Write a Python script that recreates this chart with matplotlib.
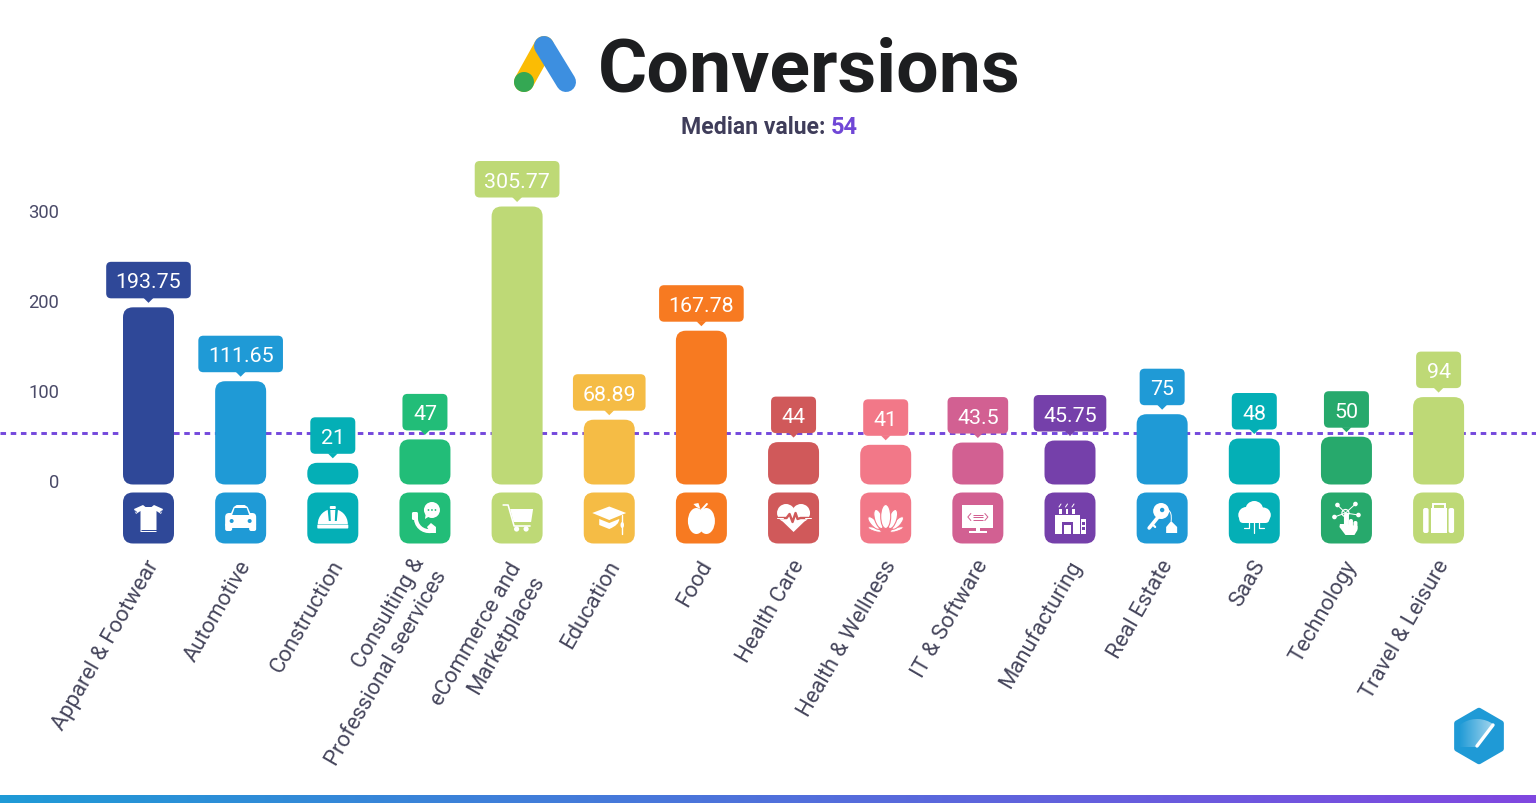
import numpy as np
import matplotlib
matplotlib.use("Agg")
import matplotlib.pyplot as plt
from matplotlib.patches import (FancyBboxPatch, Circle, Ellipse, Polygon, Rectangle,
                                Wedge, PathPatch, RegularPolygon)
from matplotlib.path import Path
from matplotlib.colors import LinearSegmentedColormap
from matplotlib.transforms import Affine2D

plt.rcParams["font.family"] = ["Roboto", "DejaVu Sans"]

categories = ["Apparel & Footwear", "Automotive", "Construction",
              "Consulting &\nProfessional seervices", "eCommerce and\nMarketplaces",
              "Education", "Food", "Health Care", "Health & Wellness", "IT & Software",
              "Manufacturing", "Real Estate", "SaaS", "Technology", "Travel & Leisure"]
values = [193.75, 111.65, 21, 47, 305.77, 68.89, 167.78, 44, 41, 43.5, 45.75, 75, 48, 50, 94]
value_labels = ["193.75", "111.65", "21", "47", "305.77", "68.89", "167.78", "44", "41",
                "43.5", "45.75", "75", "48", "50", "94"]
colors = ["#2f4898", "#1f9ad6", "#04afb6", "#22bd78", "#bed976", "#f5bc45", "#f77a21", "#d0595a",
          "#f27888", "#d26092", "#7540aa", "#1f9ad6", "#04afb6", "#27a96c", "#bed976"]
y_ticks = [0, 100, 200, 300]
median_value = 54

W, H = 1536, 804
STEP = 92.15      # px between categories
FIRST = 148.5     # px of first category
ZERO = 482.7      # px of value 0
UNIT = 0.9        # px per value unit
BAR_W = 51
BOTTOM = 485.5    # bars start a little under zero
TILE_Y = 519

fig = plt.figure(figsize=(W / 100, H / 100), dpi=100, facecolor="white")

# data axes fill the whole figure
ax = fig.add_axes([0, 0, 1, 1])
ax.set_xlim(-FIRST / STEP, (W - FIRST) / STEP)
ax.set_ylim((ZERO - H) / UNIT, ZERO / UNIT)
ax.patch.set_alpha(0)
for s in ax.spines.values():
    s.set_visible(False)
ax.set_xticks([])
ax.set_yticks(y_ticks)
ax.tick_params(axis="y", length=0, pad=-42.5, labelsize=13.2, labelcolor="#4a4a68")
for lab in ax.get_yticklabels():
    lab.set_transform(lab.get_transform() + Affine2D().translate(0, 1.5))

# pixel axes for the pictograms and decorations
px = fig.add_axes([0, 0, 1, 1])
px.set_xlim(0, W)
px.set_ylim(H, 0)
px.axis("off")
px.patch.set_alpha(0)


def to_px(i, v):
    x, y = ax.transData.transform((i, v))
    return x, H - y


def rrect(x, y, w, h, r, color, zorder=3):
    p = FancyBboxPatch((x, y), w, h, boxstyle=f"round,pad=0,rounding_size={r}",
                       fc=color, ec="none", zorder=zorder)
    px.add_patch(p)
    return p


def shape(cls, *args, **kw):
    kw.setdefault("fc", "white")
    kw.setdefault("ec", "none")
    kw.setdefault("zorder", 5)
    p = cls(*args, **kw)
    px.add_patch(p)
    return p


def stroke(xs, ys, color="white", lw=2.0, cap="round"):
    px.plot(xs, ys, color=color, lw=lw * 0.72, solid_capstyle=cap, solid_joinstyle="round", zorder=6)


def poly(cx, cy, pts, color="white", zorder=5):
    pts = [(cx + a, cy + b) for a, b in pts]
    shape(Polygon, pts, closed=True, fc=color, zorder=zorder)


def curve(cx, cy, verts, codes, color="white", lw=None):
    verts = [(cx + a, cy + b) for a, b in verts]
    if lw:
        shape(PathPatch, Path(verts, codes), fc="none", ec=color, lw=lw * 0.72, capstyle="round", zorder=5)
    else:
        shape(PathPatch, Path(verts, codes), fc=color, zorder=5)


def icon_shirt(cx, cy, c):
    poly(cx, cy, [(-5.5, -13), (-14.5, -9), (-12.5, -4), (-8, -7), (-8, 14), (8, 14), (8, -7), (12.5, -4),
                  (14.5, -9), (5.5, -13), (3, -11), (-3, -11)])
    stroke([cx - 8, cx + 8], [cy + 11.5, cy + 11.5], c, 1, "butt")
    stroke([cx - 14, cx - 11.5], [cy - 7.5, cy - 5.5], c, 0.8, "butt")
    stroke([cx + 14, cx + 11.5], [cy - 7.5, cy - 5.5], c, 0.8, "butt")


def icon_car(cx, cy, c):
    poly(cx, cy, [(-10, -4), (-7, -11), (-4, -13), (4, -13), (7, -11), (10, -4)])
    rrect(cx - 15.5, cy - 5, 31, 15, 4, "white", 5)
    rrect(cx - 15.5, cy + 5, 7, 8, 2, "white", 5)
    rrect(cx + 8.5, cy + 5, 7, 8, 2, "white", 5)
    poly(cx, cy, [(-8.5, -3), (-6, -10), (6, -10), (8.5, -3)], c, 6)
    shape(Circle, (cx - 9, cy + 3), 2, fc=c, zorder=6)
    shape(Circle, (cx + 9, cy + 3), 2, fc=c, zorder=6)


def icon_helmet(cx, cy, c):
    shape(Wedge, (cx, cy + 6), 15, 180, 360)
    rrect(cx - 15.5, cy + 6.5, 31, 4, 0.8, "white", 5)
    poly(cx, cy, [(-5.5, -12), (-4, 3), (-2, 3), (-2.5, -8), (2.5, -8), (2, 3), (4, 3), (5.5, -12)], c, 6)
    rrect(cx - 3, cy - 12, 6, 3, 1, "white", 7)


def icon_phone(cx, cy, c):
    curve(cx, cy, [(-9, -2), (-10, 8), (-2, 14), (6, 13)], [Path.MOVETO, Path.CURVE4, Path.CURVE4, Path.CURVE4],
          lw=4)
    rrect(cx - 13, cy - 6, 6, 8, 1.5, "white", 5)
    poly(cx, cy, [(2, 9), (6, 5), (11, 9), (11, 15), (6, 15)])
    shape(Circle, (cx + 7, cy - 8), 8)
    poly(cx, cy, [(1, -5), (0, 1), (5, -2)])
    for dx in (3.5, 7, 10.5):
        shape(Circle, (cx + dx, cy - 8), 0.9, fc=c, zorder=6)


def icon_cart(cx, cy, c):
    poly(cx, cy, [(-7, -9), (16, -9), (14, 4), (-3.5, 4)])
    stroke([cx - 14, cx - 9, cx - 3, cx + 13], [cy - 13, cy - 13, cy + 8, cy + 8], "white", 1.6)
    shape(Circle, (cx - 0.5, cy + 11), 2.6)
    shape(Circle, (cx + 9, cy + 11), 2.6)


def icon_cap(cx, cy, c):
    poly(cx, cy, [(-17, -5), (0, -11.5), (17, -5), (0, 2)])
    curve(cx, cy, [(-10, 1), (0, 5), (10, 1), (10, 7), (0, 11), (-10, 7), (-10, 1)],
          [Path.MOVETO, Path.LINETO, Path.LINETO, Path.CURVE3, Path.CURVE3, Path.LINETO, Path.LINETO])
    stroke([cx + 13, cx + 13], [cy - 3, cy + 16], "white", 1.4)
    shape(Ellipse, (cx + 13, cy + 7), 3.5, 6)


def icon_apple(cx, cy, c):
    shape(Ellipse, (cx - 5, cy + 3), 17, 26)
    shape(Ellipse, (cx + 5, cy + 3), 17, 26)
    poly(cx, cy, [(-3, -15), (-8, -14), (-5, -11), (-1, -9)])
    stroke([cx, cx + 5.5], [cy - 8, cy - 14], "white", 2)


def icon_heart(cx, cy, c):
    shape(Circle, (cx - 7.5, cy - 5), 9)
    shape(Circle, (cx + 7.5, cy - 5), 9)
    poly(cx, cy, [(-15.5, -1), (15.5, -1), (0, 14)])
    xs = np.array([-15, -7, -4, -1, 2, 4, 7, 15]) + cx
    ys = np.array([0, 0, -4, 4, -5, 1, 0, 0]) + cy
    stroke(xs, ys, c, 2.4)
    stroke([cx - 17, cx - 11], [cy, cy], "white", 1)
    stroke([cx + 11, cx + 17], [cy, cy], "white", 1)


def icon_lotus(cx, cy, c):
    # outer petals first, each one edged so the next stays readable
    for sign in (-1, 1):
        shape(Ellipse, (cx + sign * 11, cy + 11.5), 3.6, 14, angle=sign * 72, ec=c, lw=0.7, zorder=5)
        shape(Ellipse, (cx + sign * 12, cy + 5), 6, 16, angle=sign * 42, ec=c, lw=0.7, zorder=5.2)
        shape(Ellipse, (cx + sign * 7, cy + 1), 8, 20, angle=sign * 18, ec=c, lw=0.8, zorder=5.4)
    shape(Ellipse, (cx, cy - 1.5), 10, 24, ec=c, lw=0.8, zorder=5.6)


def icon_screen(cx, cy, c):
    shape(Rectangle, (cx - 15.5, cy - 13), 31, 23)
    shape(Rectangle, (cx - 2, cy + 10), 4, 3)
    shape(Rectangle, (cx - 9, cy + 12.5), 18, 2)
    for dy in (-3.5, -1, 1.5):
        stroke([cx - 5, cx + 5], [cy + dy, cy + dy], c, 1, "butt")
    stroke([cx - 7, cx - 10, cx - 7], [cy - 4.5, cy - 1, cy + 2.5], c, 1)
    stroke([cx + 7, cx + 10, cx + 7], [cy - 4.5, cy - 1, cy + 2.5], c, 1)


def icon_factory(cx, cy, c):
    shape(Rectangle, (cx - 15, cy - 3), 25, 19)
    shape(Rectangle, (cx + 10.5, cy + 1), 5.5, 15)
    shape(Rectangle, (cx - 8.5, cy + 4), 11, 12, fc=c, zorder=6)
    shape(Rectangle, (cx - 6.5, cy + 7), 7, 9, zorder=7)
    for dy in (4, 9):
        shape(Rectangle, (cx + 12, cy + dy), 2.5, 2.5, fc=c, zorder=6)
    for dx in (-11, -4.5, 2):
        shape(Rectangle, (cx + dx, cy - 9), 2.5, 5)
        stroke([cx + dx, cx + dx + 2], [cy - 11, cy - 14], "white", 1)


def icon_key(cx, cy, c):
    shape(Circle, (cx - 1, cy - 7), 8)
    shape(Circle, (cx, cy - 8), 2.2, fc=c, zorder=6)
    stroke([cx - 4, cx - 13], [cy - 1, cy + 10], "white", 3.6)
    stroke([cx - 10, cx - 7], [cy + 6, cy + 9], "white", 2.2)
    curve(cx, cy, [(6, -8), (10, -6), (9, 3)], [Path.MOVETO, Path.CURVE3, Path.CURVE3], lw=1)
    poly(cx, cy, [(4, 9), (9, 3), (15, 9), (15, 15), (4, 15)])


def icon_cloud(cx, cy, c):
    shape(Circle, (cx - 8, cy - 3), 8)
    shape(Circle, (cx, cy - 8), 9)
    shape(Circle, (cx + 9, cy - 3), 7.5)
    rrect(cx - 15, cy - 3, 30, 8, 4, "white", 5)
    stroke([cx, cx], [cy + 3, cy + 15], "white", 1.2)
    stroke([cx - 5, cx - 5, cx - 10], [cy + 4, cy + 10, cy + 10], "white", 1.2)
    stroke([cx + 5, cx + 5, cx + 10], [cy + 4, cy + 10, cy + 10], "white", 1.2)


def icon_network(cx, cy, c):
    hub = (cx - 1, cy - 5)
    for dx, dy in [(-9, -13), (9, -14), (-12, -1), (12, -3)]:
        stroke([hub[0], cx + dx], [hub[1], cy + dy], "white", 1)
        shape(Circle, (cx + dx, cy + dy), 2.3)
    shape(Circle, hub, 3.5, fc="none", ec="white", lw=0.9)
    rrect(cx - 2.5, cy - 5, 5, 15, 2.4, "white", 5)
    rrect(cx + 2.5, cy + 1, 4, 10, 1.8, "white", 5)
    rrect(cx + 7, cy + 3, 4, 9, 1.8, "white", 5)
    poly(cx, cy, [(-6.5, 6), (-2.5, 6), (11, 8), (11, 12), (8, 17), (-1, 17), (-7, 9)])


def icon_suitcase(cx, cy, c):
    shape(Rectangle, (cx - 8, cy - 10), 16, 25)
    rrect(cx - 15.5, cy - 10, 5.5, 25, 2, "white", 5)
    rrect(cx + 10, cy - 10, 5.5, 25, 2, "white", 5)
    shape(Rectangle, (cx - 6, cy - 14.5), 12, 5, fc="none", ec="white", lw=1.4)


icons = [icon_shirt, icon_car, icon_helmet, icon_phone, icon_cart, icon_cap, icon_apple, icon_heart,
         icon_lotus, icon_screen, icon_factory, icon_key, icon_cloud, icon_network, icon_suitcase]

# wrapped labels sit a little differently from the single-line ones
label_nudge = {3: (0, 4), 4: (5, 9)}

# median line sits behind the bars and tags
ax.axhline(median_value, color="#7448dc", lw=2.1, dashes=(1.9, 1.6), zorder=1)

baseline = (ZERO - BOTTOM) / UNIT
bar_w = BAR_W / STEP
aspect = STEP / UNIT
for i, v in enumerate(values):
    ax.add_patch(FancyBboxPatch((i - bar_w / 2, baseline), bar_w, v - baseline,
                                boxstyle=f"round,pad=0,rounding_size={10 / STEP}", mutation_aspect=aspect,
                                fc=colors[i], ec="none", zorder=2))

renderer = fig.canvas.get_renderer()
for i, (v, lab, name) in enumerate(zip(values, value_labels, categories)):
    x, top = to_px(i, v)
    c = colors[i]

    # value tag above the bar
    t = px.text(x, top - 27.5, lab, color="white", fontsize=15.4, ha="center", va="center_baseline", zorder=8)
    tw = t.get_window_extent(renderer).width
    tag_w = max(tw + 19, 45)
    rrect(x - tag_w / 2, top - 45.5, tag_w, 36.5, 5, c, 7)
    poly(x, top, [(-5, -9.5), (5, -9.5), (0, -4.5)], c, 7)

    # pictogram tile under the bar
    rrect(x - BAR_W / 2, TILE_Y - BAR_W / 2, BAR_W, BAR_W, 10, c, 3)
    icons[i](x, TILE_Y, c)

    dx, dy = label_nudge.get(i, (0, 0))
    px.text(x + 6 + dx, 562 + dy, name, rotation=60, rotation_mode="anchor", ha="right", va="center",
            ma="right", fontsize=15.8, color="#46465c", linespacing=1.35, zorder=4)

# title block with logo
LOGO_BLUE, LOGO_YEL, LOGO_GRN = "#3d8fe0", "#fbbc04", "#34a853"
px.plot([544, 524], [47, 83], color=LOGO_YEL, lw=20 * 0.72, solid_capstyle="round", zorder=3)
px.plot([544, 566], [47, 83], color=LOGO_BLUE, lw=20 * 0.72, solid_capstyle="round", zorder=4)
px.add_patch(Circle((524, 83), 10, fc=LOGO_GRN, ec="none", zorder=5))
px.text(598, 91.5, "Conversions", fontsize=54.3, fontweight="bold", color="#1d1e20", ha="left", va="baseline")

px.text(681, 133.5, "Median value:", fontsize=16.6, fontweight="bold", color="#3f3d5a", ha="left", va="baseline")
px.text(831, 133.5, str(median_value), fontsize=17, fontweight="bold", color="#7047d6", ha="left", va="baseline")

# gradient strip along the bottom edge
strip = LinearSegmentedColormap.from_list("strip", ["#1f9ad6", "#8047e0"])
px.imshow(np.linspace(0, 1, 512).reshape(1, -1), extent=(0, W, H, 796.5), aspect="auto", cmap=strip, zorder=2)

# hexagon badge in the corner
BX, BY = 1479, 737
hexagon = RegularPolygon((BX, BY), 6, radius=25.5, orientation=0, fc="#1f9ad6", ec="#1f9ad6", lw=4,
                         joinstyle="round", zorder=3)
px.add_patch(hexagon)
fade = LinearSegmentedColormap.from_list("fade", ["#1f9ad6", "#a9d8ef"])
im = px.imshow(np.linspace(0, 1, 128).reshape(1, -1), extent=(1459, 1495, 750, 720), aspect="auto",
               cmap=fade, zorder=4)
clip = Wedge((1477, 748), 28, 180, 305, fc="none", ec="none", transform=px.transData)
px.add_patch(clip)
im.set_clip_path(clip)
px.plot([1477, 1493], [747, 726], color="white", lw=3.4 * 0.72, solid_capstyle="round", zorder=5)

px.set_xlim(0, W)
px.set_ylim(H, 0)
fig.savefig("out.png", dpi=100, facecolor="white")
